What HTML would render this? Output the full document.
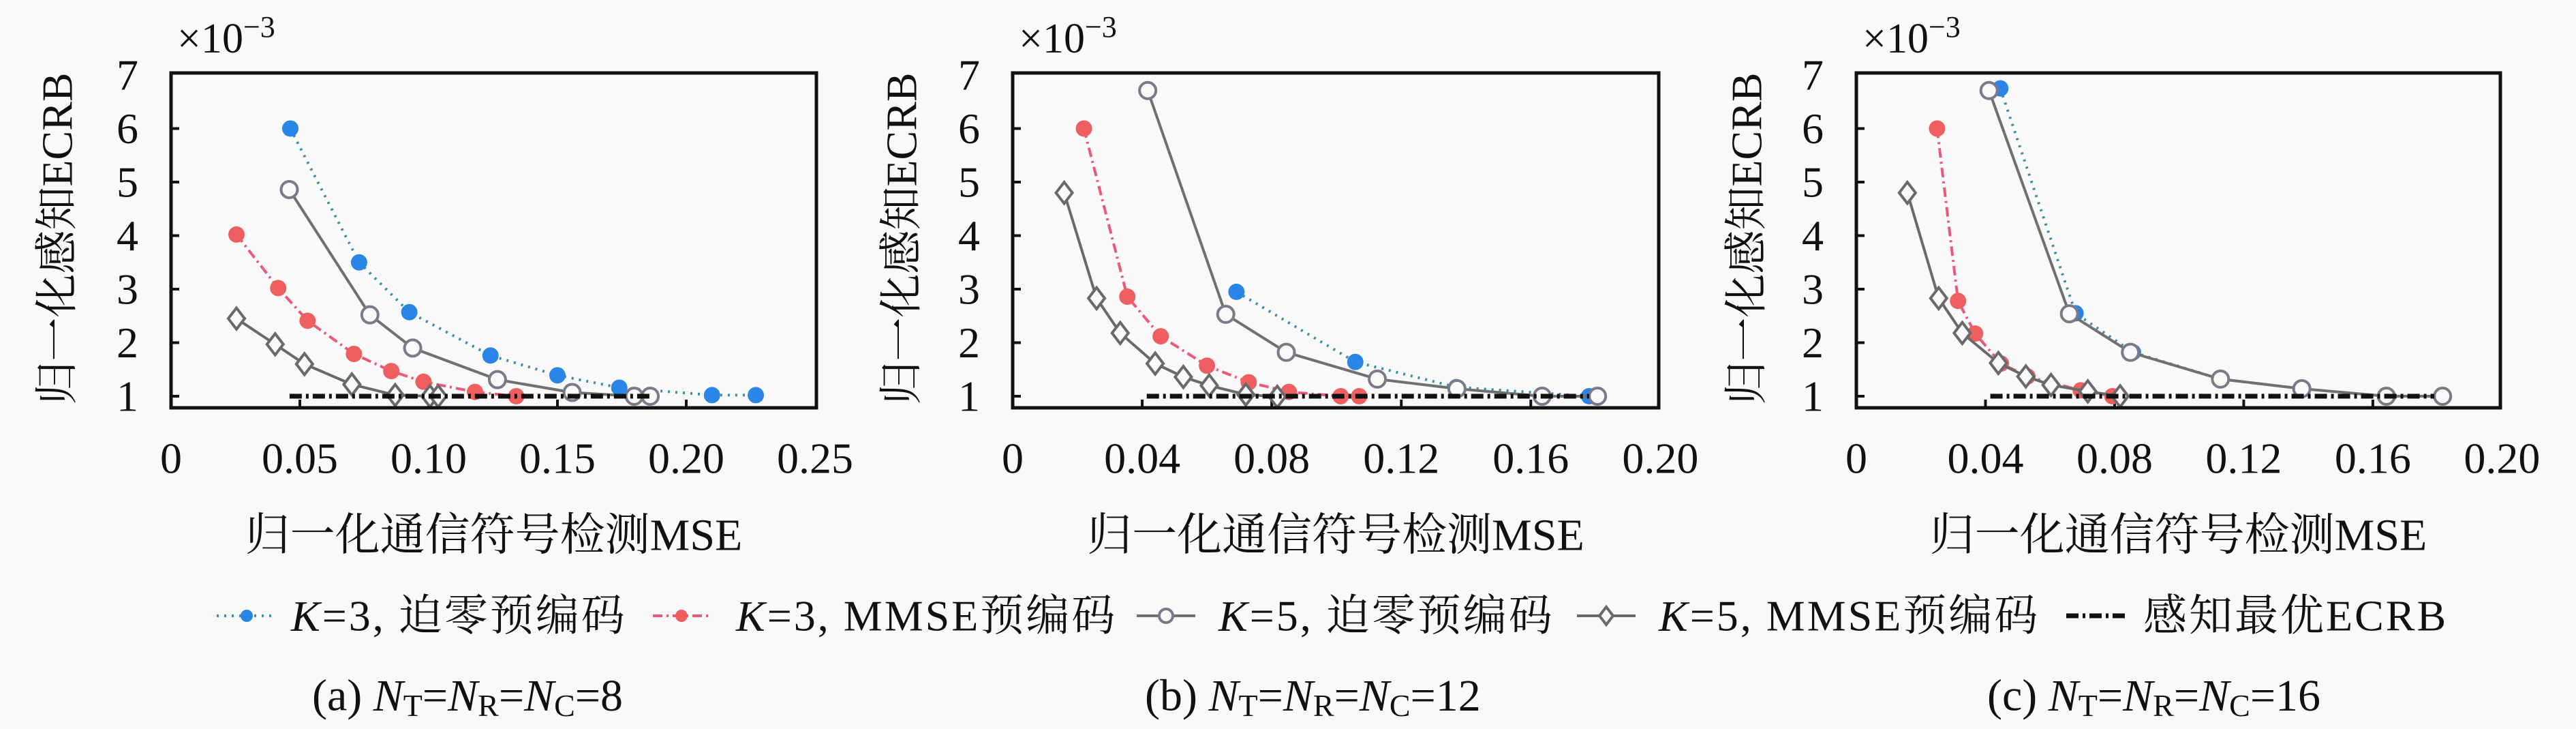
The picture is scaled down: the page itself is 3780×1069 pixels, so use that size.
<!DOCTYPE html>
<html><head><meta charset="utf-8">
<style>
html,body{margin:0;padding:0;background:#f9f9f9;}
svg{display:block;}
text{font-family:"Liberation Serif","Noto Serif CJK SC","Noto Sans CJK SC",serif;fill:#111;}
</style></head>
<body>
<svg id="fig" width="3780" height="1069" viewBox="0 0 3780 1069" xmlns="http://www.w3.org/2000/svg">
<rect x="0" y="0" width="3780" height="1069" fill="#f9f9f9"/>
<g id="panels"></g>
<g id="legend"></g>
</svg>
<script>
// ---- data ----
const panelIds = ['a','b','c'];
const xMaxes = [0.25, 0.2, 0.2];
const xTickLabelsA = ['0','0.05','0.10','0.15','0.20','0.25'];
const xTickLabelsBC = ['0','0.04','0.08','0.12','0.16','0.20'];
const yTicks = [1,2,3,4,5,6,7];
const captions = ['(a) ', '(b) ', '(c) '];
const captionN = ['8','12','16'];

// panel a
const aZF3x = [0.0463,0.073,0.0925,0.124,0.150,0.174,0.210,0.227];
const aZF3y = [6.0,3.50,2.57,1.76,1.39,1.16,1.02,1.02];
const aMM3x = [0.0254,0.0416,0.053,0.071,0.0855,0.098,0.118,0.134];
const aMM3y = [4.02,3.02,2.41,1.79,1.47,1.27,1.08,1.0];
const aZF5x = [0.0459,0.0772,0.0938,0.1267,0.1557,0.1798,0.186];
const aZF5y = [4.86,2.52,1.90,1.31,1.07,1.0,1.0];
const aMM5x = [0.0254,0.0404,0.0518,0.0702,0.087,0.1005,0.1037];
const aMM5y = [2.45,1.97,1.60,1.22,1.02,1.0,1.0];
const aOptX = [0.046,0.1866];
const aOptY = [1.0,1.0];
// panel b
const bZF3x = [0.0691,0.1058,0.137,0.178];
const bZF3y = [2.95,1.64,1.17,1.0];
const bMM3x = [0.022,0.0354,0.0457,0.060,0.0729,0.0853,0.1013,0.107];
const bMM3y = [6.0,2.86,2.12,1.57,1.26,1.08,1.0,1.0];
const bZF5x = [0.0417,0.0658,0.0845,0.1126,0.1372,0.1635,0.1806];
const bZF5y = [6.71,2.53,1.82,1.32,1.14,1.0,1.0];
const bMM5x = [0.0159,0.0259,0.0332,0.044,0.0527,0.0607,0.072,0.0817];
const bMM5y = [4.80,2.83,2.18,1.61,1.36,1.20,1.03,0.99];
const bOptX = [0.0414,0.178];
const bOptY = [1.0,1.0];
// panel c
const cZF3x = [0.0446,0.0679,0.0857,0.1128,0.138,0.1642,0.1816];
const cZF3y = [6.75,2.55,1.82,1.32,1.14,1.0,1.0];
const cMM3x = [0.025,0.0315,0.0368,0.0448,0.053,0.0695,0.0793];
const cMM3y = [6.0,2.78,2.17,1.61,1.37,1.11,1.0];
const cZF5x = [0.0411,0.066,0.0849,0.1128,0.138,0.1642,0.1816];
const cZF5y = [6.71,2.54,1.82,1.32,1.14,1.0,1.0];
const cMM5x = [0.0158,0.0255,0.0328,0.044,0.0525,0.0603,0.0717,0.0817];
const cMM5y = [4.80,2.83,2.18,1.62,1.37,1.21,1.09,1.0];
const cOptX = [0.0415,0.179];
const cOptY = [1.0,1.0];

const seriesX = [[aZF3x,aMM3x,aZF5x,aMM5x,aOptX],[bZF3x,bMM3x,bZF5x,bMM5x,bOptX],[cZF3x,cMM3x,cZF5x,cMM5x,cOptX]];
const seriesY = [[aZF3y,aMM3y,aZF5y,aMM5y,aOptY],[bZF3y,bMM3y,bZF5y,bMM5y,bOptY],[cZF3y,cMM3y,cZF5y,cMM5y,cOptY]];
const seriesNames = ['k3-zero-forcing','k3-mmse','k5-zero-forcing','k5-mmse','optimal-ecrb'];

// ---- layout ----
const NS='http://www.w3.org/2000/svg';
const boxL=[251,1486,2724], boxR=[1198,2434,3669];
const boxT=107, boxB=598;
const yPix1=581, yUnit=78.5;
function el(tag,attrs,parent){const e=document.createElementNS(NS,tag);for(const k in attrs)e.setAttribute(k,attrs[k]);if(parent)parent.appendChild(e);return e;}
function txt(parent,x,y,s,size,anchor,extra){const t=el('text',Object.assign({x:x,y:y,'font-size':size,'text-anchor':anchor||'middle','dominant-baseline':'central'},extra||{}),parent);t.textContent=s;return t;}

const styles=[
 {stroke:'#3a8fb0',dash:'3 8',width:4,marker:'dot',mfill:'#2a86e6',mstroke:'#2a86e6'},
 {stroke:'#ea5a78',dash:'14 6 3 6',width:4,marker:'dot',mfill:'#ef5f5f',mstroke:'#ef5f5f'},
 {stroke:'#707070',dash:'',width:4,marker:'circle',mfill:'#f9f9f9',mstroke:'#7a7a8a'},
 {stroke:'#6a6a6a',dash:'',width:4,marker:'diamond',mfill:'#f9f9f9',mstroke:'#6a6a6a'},
 {stroke:'#111',dash:'18 6 4 6',width:7,marker:'none'}
];
function drawMarker(g,st,cx,cy,r){
  let m;
  if(st.marker==='dot'){m=el('circle',{cx:cx,cy:cy,r:r,fill:st.mfill},g);}
  else if(st.marker==='circle'){m=el('circle',{cx:cx,cy:cy,r:r,fill:st.mfill,stroke:st.mstroke,'stroke-width':4},g);}
  else if(st.marker==='diamond'){m=el('polygon',{points:`${cx},${cy-r*1.3} ${cx+r},${cy} ${cx},${cy+r*1.3} ${cx-r},${cy}`,fill:st.mfill,stroke:st.mstroke,'stroke-width':4},g);}
  return m;
}

const panels=document.getElementById('panels');
panelIds.forEach((pid,pi)=>{
  const g=el('g',{},panels);
  
  
  const L=boxL[pi],R=boxR[pi];
  const xMax=xMaxes[pi];
  const pxPerUnit=(pi===0)?(1196-251)/0.25:(R-L)/0.1995;
  const X=v=>L+v*pxPerUnit;
  const Y=v=>yPix1-(v-1)*yUnit;
  const labels=pi===0?xTickLabelsA:xTickLabelsBC;
  const tg=el('g',{},g);
  
  
  labels.forEach((lab,i)=>{
    const v=xMax*i/(labels.length-1);
    const px=X(v);
    if(i>0&&i<labels.length-1){el('line',{x1:px,y1:boxB,x2:px,y2:boxB-12,stroke:'#111','stroke-width':4},tg);}
    const t=txt(tg,px,672,lab,64);
    
    
  });
  const yg=el('g',{},g);
  
  
  yTicks.forEach(v=>{
    const py=Y(v);
    if(v<7) el('line',{x1:L,y1:py,x2:L+12,y2:py,stroke:'#111','stroke-width':4},yg);
    const t=txt(yg,L-64,py,String(v),64);
    
    
  });
  for(let s=0;s<5;s++){
    const st=styles[s];
    const xs=seriesX[pi][s], ys=seriesY[pi][s];
    const sg=el('g',{},g);
    
    
    const pts=xs.map((x,i)=>X(x)+','+Y(ys[i])).join(' ');
    const pl=el('polyline',{points:pts,fill:'none',stroke:st.stroke,'stroke-width':st.width,'stroke-dasharray':st.dash},sg);
    
    
    if(st.marker!=='none'){
      xs.forEach((x,i)=>{
        const m=drawMarker(sg,st,X(x),Y(ys[i]),12);
        
        
      });
    }
  }
  const box=el('rect',{x:L,y:boxT,width:R-L,height:boxB-boxT,fill:'none',stroke:'#111','stroke-width':5},g);
  
  
  const mt=el('text',{x:L+9,y:57,'font-size':62,'dominant-baseline':'central'},g);
  
  
  mt.innerHTML='×10<tspan font-size="44" dy="-18">−3</tspan>';
  const ycx=[84,1323,2563][pi];
  const yt=txt(g,0,0,'归一化感知ECRB',64,'middle',{transform:`translate(${ycx},350) rotate(-90)`});
  
  
  const xt=txt(g,(L+R)/2,785,'归一化通信符号检测MSE',66);
  
  
  const capX=[458,1680,2916][pi];
  const cp=el('text',{x:capX,y:1020,'font-size':66,'dominant-baseline':'central'},g);
  
  
  cp.innerHTML=captions[pi]+'<tspan font-style="italic">N</tspan><tspan font-size="46" dy="14">T</tspan><tspan dy="-14">=</tspan><tspan font-style="italic">N</tspan><tspan font-size="46" dy="14">R</tspan><tspan dy="-14">=</tspan><tspan font-style="italic">N</tspan><tspan font-size="46" dy="14">C</tspan><tspan dy="-14">='+captionN[pi]+'</tspan>';
});

const legend=document.getElementById('legend');
const legItems=[
 {x1:318,x2:406,tx:427,k:'3',label:'迫零预编码'},
 {x1:958,x2:1042,tx:1080,k:'3',label:'MMSE预编码'},
 {x1:1668,x2:1754,tx:1788,k:'5',label:'迫零预编码'},
 {x1:2314,x2:2400,tx:2434,k:'5',label:'MMSE预编码'},
 {x1:3032,x2:3124,tx:3145,k:null,label:'感知最优ECRB'}
];
legItems.forEach((it,i)=>{
  const st=styles[i];
  const g=el('g',{},legend);
  
  
  el('line',{x1:it.x1,y1:903,x2:it.x2,y2:903,stroke:st.stroke,'stroke-width':st.width,'stroke-dasharray':st.dash},g);
  if(st.marker!=='none') drawMarker(g,st,(it.x1+it.x2)/2,903,st.marker==='dot'?9:10);
  const t=el('text',{x:it.tx,y:903,'font-size':64,'letter-spacing':3,'dominant-baseline':'central'},g);
  if(it.k) t.innerHTML='<tspan font-style="italic">K</tspan>='+it.k+', '+it.label;
  else t.textContent=it.label;
});
</script>
</body></html>
